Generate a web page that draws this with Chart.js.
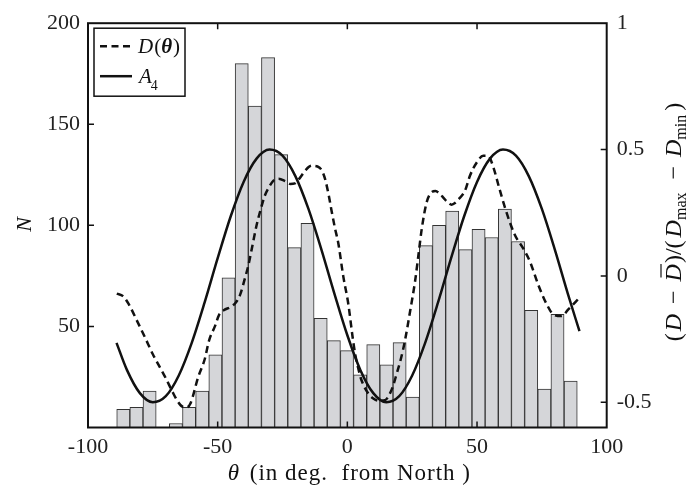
<!DOCTYPE html>
<html><head><meta charset="utf-8">
<script src="https://cdn.jsdelivr.net/npm/chart.js@4"></script>
<style>html,body{margin:0;padding:0;background:#fff}</style>
</head><body>
<canvas id="c" width="697" height="487"></canvas>
<script>
// ---- data ----
const binCenters = [-86.39,-81.32,-76.25,-71.17,-66.10,-61.02,-55.95,-50.88,-45.80,-40.73,-35.66,-30.58,-25.51,-20.44,-15.36,-10.29,-5.21,-0.14,4.93,10.00,15.08,20.15,25.22,30.30,35.37,40.44,45.52,50.59,55.66,60.74,65.81,70.89,75.96,81.03,86.11];
const counts = [9,10,18,0,2,10,18,36,74,180,159,183,135,89,101,54,43,38,26,41,31,42,15,90,100,107,88,98,94,108,92,58,19,56,23];

const dTheta = [-88.9,-86.5,-84.4,-81,-78,-75,-72.9,-70,-67.7,-65.5,-63.5,-62,-60.5,-57.5,-55,-53.3,-51,-49.5,-47.5,-45.2,-43,-41.4,-39.5,-38.2,-36.5,-35,-33.5,-31.8,-30,-28.5,-26.5,-24,-22,-20.2,-18.5,-16,-13.7,-11.5,-10,-8.6,-7.2,-6,-4.8,-3.5,-1.6,0.4,2,3,4.3,5.5,8.1,10,12,14.5,16.4,17.8,19,20.6,22.2,24.2,26.1,27.5,28.7,30.6,32.5,34,35.5,37,38.5,40.2,41.5,42.8,45.4,47.3,49.9,52.4,54.3,56.3,58.5,61.4,64.6,67.8,70.4,73.6,76.9,79.4,82.6,85.2,89.7];
const dValues = [-0.07,-0.08,-0.11,-0.18,-0.244,-0.31,-0.35,-0.405,-0.453,-0.495,-0.518,-0.52,-0.505,-0.40,-0.33,-0.255,-0.198,-0.155,-0.135,-0.124,-0.105,-0.076,-0.01,0.04,0.125,0.2,0.26,0.318,0.355,0.377,0.384,0.375,0.364,0.366,0.385,0.42,0.436,0.433,0.42,0.384,0.32,0.253,0.19,0.13,0.0,-0.113,-0.24,-0.309,-0.37,-0.414,-0.466,-0.485,-0.494,-0.492,-0.466,-0.43,-0.388,-0.33,-0.257,-0.14,-0.022,0.09,0.187,0.292,0.331,0.336,0.326,0.31,0.293,0.282,0.288,0.302,0.338,0.397,0.449,0.475,0.475,0.43,0.35,0.25,0.162,0.109,0.057,-0.035,-0.113,-0.152,-0.159,-0.133,-0.084];

const aTheta = [-89,-85,-80,-75,-70,-65,-60,-55,-50,-45,-40,-35,-30,-25,-20,-15,-10,-5,0,5,10,15,20,25,30,35,40,45,50,55,60,65,70,75,80,85,89.5];
const aValues = [-0.265,-0.372,-0.464,-0.5,-0.476,-0.394,-0.265,-0.104,0.07,0.235,0.372,0.464,0.5,0.476,0.394,0.265,0.104,-0.07,-0.235,-0.372,-0.464,-0.5,-0.476,-0.394,-0.265,-0.104,0.07,0.235,0.372,0.464,0.5,0.476,0.394,0.265,0.104,-0.07,-0.219];

const xTicks = [-100,-50,0,50,100];
const leftTicks = [50,100,150,200];
const rightTicks = [-0.5,0,0.5,1];
const rightTickLabels = ['-0.5','0','0.5','1'];

// ---- drawing helpers ----
const SERIF = "'Liberation Serif', 'DejaVu Serif', serif";
function drawPieces(ctx, pieces, x, y) {
  let total = 0;
  pieces.forEach(p => { ctx.font = p.f; p.w = ctx.measureText(p.t).width + (p.sp || 0); total += p.w; });
  let cx = x - total / 2;
  pieces.forEach(p => {
    ctx.font = p.f;
    ctx.fillText(p.t, cx + (p.pre || 0), y + (p.dy || 0));
    if (p.bar) {
      ctx.save(); ctx.lineWidth = 1.2; ctx.beginPath();
      ctx.moveTo(cx + 4, y - p.bar); ctx.lineTo(cx + p.w - 1, y - p.bar); ctx.stroke(); ctx.restore();
    }
    cx += p.w;
  });
}

const decor = {
  id: 'decor',
  afterDraw(chart) {
    const { ctx, chartArea: a, scales } = chart;
    const T = 6;
    ctx.save();
    ctx.strokeStyle = '#111'; ctx.fillStyle = '#111';
    ctx.lineWidth = 1.5;
    ctx.beginPath();
    scales.x.ticks.forEach(t => {
      if (t.value <= scales.x.min || t.value >= scales.x.max) return;
      const px = scales.x.getPixelForValue(t.value);
      ctx.moveTo(px, a.bottom); ctx.lineTo(px, a.bottom - T);
      ctx.moveTo(px, a.top); ctx.lineTo(px, a.top + T);
    });
    scales.yL.ticks.forEach(t => {
      if (t.value >= scales.yL.max) return;
      const py = scales.yL.getPixelForValue(t.value);
      ctx.moveTo(a.left, py); ctx.lineTo(a.left + T, py);
    });
    scales.yR.ticks.forEach(t => {
      if (t.value >= scales.yR.max) return;
      const py = scales.yR.getPixelForValue(t.value);
      ctx.moveTo(a.right, py); ctx.lineTo(a.right - T, py);
    });
    ctx.stroke();
    ctx.lineWidth = 2;
    ctx.strokeRect(a.left, a.top, a.right - a.left, a.bottom - a.top);

    // legend
    const lx = a.left + 6, ly = a.top + 5, lw = 91, lh = 68;
    ctx.fillStyle = '#fff'; ctx.fillRect(lx, ly, lw, lh);
    ctx.lineWidth = 1.5; ctx.strokeRect(lx, ly, lw, lh);
    ctx.fillStyle = '#111';
    ctx.lineWidth = 2.5;
    ctx.setLineDash([7, 4.5]);
    ctx.beginPath(); ctx.moveTo(lx + 6, ly + 18); ctx.lineTo(lx + 38, ly + 18); ctx.stroke();
    ctx.setLineDash([]);
    ctx.beginPath(); ctx.moveTo(lx + 6, ly + 48); ctx.lineTo(lx + 38, ly + 48); ctx.stroke();
    ctx.textBaseline = 'alphabetic'; ctx.textAlign = 'left';
    ctx.font = "italic 21px " + SERIF; ctx.fillText('D', lx + 44, ly + 25);
    let w = ctx.measureText('D').width;
    ctx.font = "21px " + SERIF; ctx.fillText('(', lx + 44 + w + 1, ly + 25);
    let w2 = ctx.measureText('(').width;
    ctx.font = "italic bold 21px " + SERIF; ctx.fillText('θ', lx + 44 + w + 1 + w2, ly + 25);
    let w3 = ctx.measureText('θ').width;
    ctx.font = "21px " + SERIF; ctx.fillText(')', lx + 44 + w + 1 + w2 + w3 + 1, ly + 25);
    ctx.font = "italic 21px " + SERIF; ctx.fillText('A', lx + 45, ly + 55);
    let wa = ctx.measureText('A').width;
    ctx.font = "14px " + SERIF; ctx.fillText('4', lx + 45 + wa - 1, ly + 62);

    // x title
    ctx.textAlign = 'left';
    if ('letterSpacing' in ctx) ctx.letterSpacing = '1px';
    drawPieces(ctx, [
      { t: 'θ', f: "italic 23px " + SERIF, sp: 3 },
      { t: ' (in deg.  from North )', f: "23px " + SERIF }
    ], (a.left + a.right) / 2 + 2, 480);
    if ('letterSpacing' in ctx) ctx.letterSpacing = '0px';

    // left title N
    ctx.save();
    ctx.translate(23, (a.top + a.bottom) / 2 - 1);
    ctx.rotate(-Math.PI / 2);
    drawPieces(ctx, [{ t: 'N', f: "italic 22px " + SERIF }], 0, 8);
    ctx.restore();

    // right title
    ctx.save();
    ctx.translate(672, 222);
    ctx.rotate(-Math.PI / 2);
    const F = "24px " + SERIF, FI = "italic 24px " + SERIF, FS = "16px " + SERIF;
    drawPieces(ctx, [
      { t: '(', f: F, sp: 2 },
      { t: 'D', f: FI, sp: 1 },
      { t: ' − ', f: F, sp: 6, pre: 3 },
      { t: 'D', f: FI, bar: 20, sp: 1 },
      { t: ')/(', f: F, sp: 3 },
      { t: 'D', f: FI },
      { t: 'max', f: FS, dy: 5, sp: 4 },
      { t: ' − ', f: F, sp: 6, pre: 3 },
      { t: 'D', f: FI },
      { t: 'min', f: FS, dy: 5, sp: 4 },
      { t: ')', f: F }
    ], 0, 9);
    ctx.restore();
    ctx.restore();
  }
};

const tickFont = { family: SERIF, size: 22 };
new Chart(document.getElementById('c'), {
  type: 'bar',
  data: {
    datasets: [
      {
        type: 'line', label: 'D(θ)', order: 1, xAxisID: 'x', yAxisID: 'yR',
        data: dTheta.map((t, i) => ({ x: t, y: dValues[i] })),
        borderColor: '#111', borderWidth: 2.5, borderDash: [7, 4.5], pointRadius: 0,
        cubicInterpolationMode: 'monotone', fill: false
      },
      {
        type: 'line', label: 'A4', order: 0, xAxisID: 'x', yAxisID: 'yR',
        data: aTheta.map((t, i) => ({ x: t, y: aValues[i] })),
        borderColor: '#111', borderWidth: 2.5, pointRadius: 0,
        cubicInterpolationMode: 'monotone', fill: false
      },
      {
        type: 'bar', label: 'N', order: 2, xAxisID: 'x', yAxisID: 'yL',
        data: binCenters.map((c, i) => ({ x: c, y: counts[i] })),
        backgroundColor: '#d5d6d9', borderColor: '#333', borderWidth: 1,
        barPercentage: 1, categoryPercentage: 1, grouped: false
      }
    ]
  },
  options: {
    responsive: false, animation: false, devicePixelRatio: 1,
    layout: { padding: { top: 19.5, left: 0, right: 0, bottom: 0 } },
    plugins: { legend: { display: false }, tooltip: { enabled: false } },
    scales: {
      x: {
        type: 'linear', position: 'bottom', min: -100, max: 100, offset: false,
        afterBuildTicks: s => { s.ticks = xTicks.map(v => ({ value: v })); },
        afterFit: s => { s.height = 59.5; },
        grid: { display: false, drawTicks: false }, border: { display: false },
        ticks: { font: tickFont, color: '#222', padding: 7, maxRotation: 0, autoSkip: false,
                 callback: v => String(v) }
      },
      yL: {
        type: 'linear', position: 'left', min: 0, max: 200,
        afterBuildTicks: s => { s.ticks = leftTicks.map(v => ({ value: v })); },
        afterFit: s => { s.width = 88; },
        grid: { display: false, drawTicks: false }, border: { display: false },
        ticks: { font: tickFont, color: '#222', padding: 8, callback: v => String(v) }
      },
      yR: {
        type: 'linear', position: 'right', min: -0.6, max: 1,
        afterBuildTicks: s => { s.ticks = rightTicks.map(v => ({ value: v })); },
        afterFit: s => { s.width = 90.3; },
        grid: { display: false, drawTicks: false }, border: { display: false },
        ticks: { font: tickFont, color: '#222', padding: 10,
                 callback: v => rightTickLabels[rightTicks.indexOf(v)] ?? String(v) }
      }
    }
  },
  plugins: [decor]
});
</script>
</body></html>
